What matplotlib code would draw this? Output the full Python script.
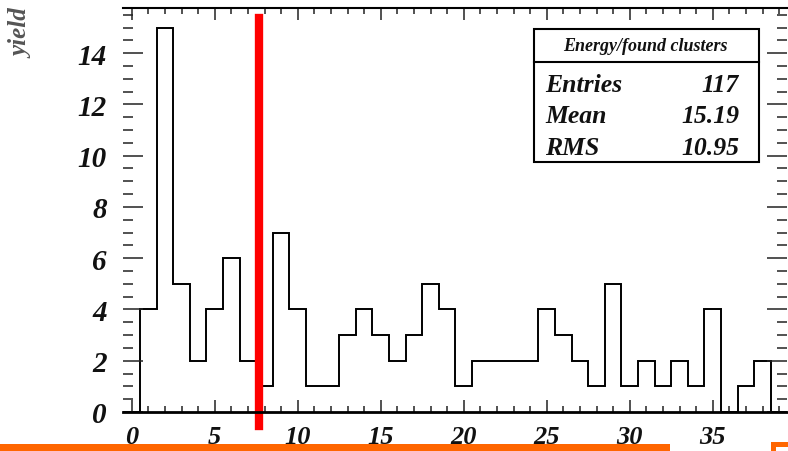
import numpy as np
import matplotlib
matplotlib.use("Agg")
import matplotlib.pyplot as plt
from matplotlib.patches import Rectangle
from matplotlib.lines import Line2D
from matplotlib.ticker import MultipleLocator

# histogram contents, one bin per integer energy (bins centred on 0..39)
bin_centers = np.arange(0, 40)
counts = [0, 4, 15, 5, 2, 4, 6, 2, 1, 7,
          4, 1, 1, 3, 4, 3, 2, 3, 5, 4,
          1, 2, 2, 2, 2, 4, 3, 2, 1, 5,
          1, 2, 1, 2, 1, 4, 0, 1, 2, 0]
x_ticks = [0, 5, 10, 15, 20, 25, 30, 35]
y_ticks = [0, 2, 4, 6, 8, 10, 12, 14]
stats_title = "Energy/found clusters"
stats_names = ["Entries", "Mean", "RMS"]
stats_values = ["117", "15.19", "10.95"]
cut_value = 7.65   # the red marker line

W, H = 788, 452
fig = plt.figure(figsize=(W / 100, H / 100), dpi=100)

def fx(px):
    return px / W

def fy(py):
    return 1 - py / H

font = dict(family="Liberation Serif", weight="bold", style="italic")

ax = fig.add_axes([fx(123.4), fy(413), fx(787.4) - fx(123.4), fy(9.3) - fy(413)])
edges = np.append(bin_centers - 0.5, bin_centers[-1] + 0.5)
ax.stairs(counts, edges, color="black", linewidth=1.4)

ax.set_xlim(-0.5, 39.5)
ax.set_ylim(0, 1.05 * max(counts))
ax.xaxis.set_major_locator(MultipleLocator(5))
ax.xaxis.set_minor_locator(MultipleLocator(1))
ax.yaxis.set_major_locator(MultipleLocator(2))
ax.yaxis.set_minor_locator(MultipleLocator(0.5))
ax.set_xticks(x_ticks)
ax.set_yticks(y_ticks)

ax.tick_params(which="both", direction="in", top=True, right=True, width=1.1, color="#222")
ax.tick_params(axis="x", which="major", length=8.5, pad=9.5)
ax.tick_params(axis="x", which="minor", length=4.3)
ax.tick_params(axis="y", which="major", length=14.5, pad=12)
ax.tick_params(axis="y", which="minor", length=7.2)
for lab in ax.get_xticklabels():
    lab.set_fontproperties(matplotlib.font_manager.FontProperties(size=19, **font))
    lab.set_color("#111")
for lab in ax.get_yticklabels():
    lab.set_fontproperties(matplotlib.font_manager.FontProperties(size=21, **font))
    lab.set_color("#111")

ax.spines["left"].set_visible(False)
ax.spines["right"].set_visible(False)
ax.spines["bottom"].set_linewidth(2.0)
ax.spines["top"].set_linewidth(1.5)

# red marker line, sticking out below the frame
ax.axvline(cut_value, ymin=-0.035, ymax=0.976, color="#ff0000", linewidth=6, clip_on=False)

# y axis title
fig.text(fx(22), fy(9), "yield", rotation=90, ha="center", va="top",
         fontsize=18, color="#555", **font)

# stats box
fig.add_artist(Rectangle((fx(534), fy(163)), fx(759) - fx(534), fy(30) - fy(163),
                         transform=fig.transFigure, fill=False, edgecolor="black", linewidth=1.5))
fig.add_artist(Line2D([fx(534), fx(759)], [fy(63), fy(63)], transform=fig.transFigure,
                      color="black", linewidth=1.5))
fig.text(fx(645), fy(46.5), stats_title, ha="center", va="center", fontsize=13, color="#111", **font)
for i, (name, val) in enumerate(zip(stats_names, stats_values)):
    base = 91.7 + i * 31.7
    fig.text(fx(545), fy(base), name, ha="left", va="baseline", fontsize=18.5, color="#111", **font)
    fig.text(fx(739), fy(base), val, ha="right", va="baseline", fontsize=18.5, color="#111", **font)

# orange markings along the bottom edge
orange = "#ff6600"
fig.add_artist(Rectangle((fx(0), fy(452)), fx(670), fy(445) - fy(452),
                         transform=fig.transFigure, color=orange, linewidth=0))
fig.add_artist(Rectangle((fx(771), fy(448)), fx(788) - fx(771), fy(443) - fy(448),
                         transform=fig.transFigure, color=orange, linewidth=0))
fig.add_artist(Rectangle((fx(771), fy(452)), fx(776) - fx(771), fy(443) - fy(452),
                         transform=fig.transFigure, color=orange, linewidth=0))

fig.savefig("out.png", dpi=100)
